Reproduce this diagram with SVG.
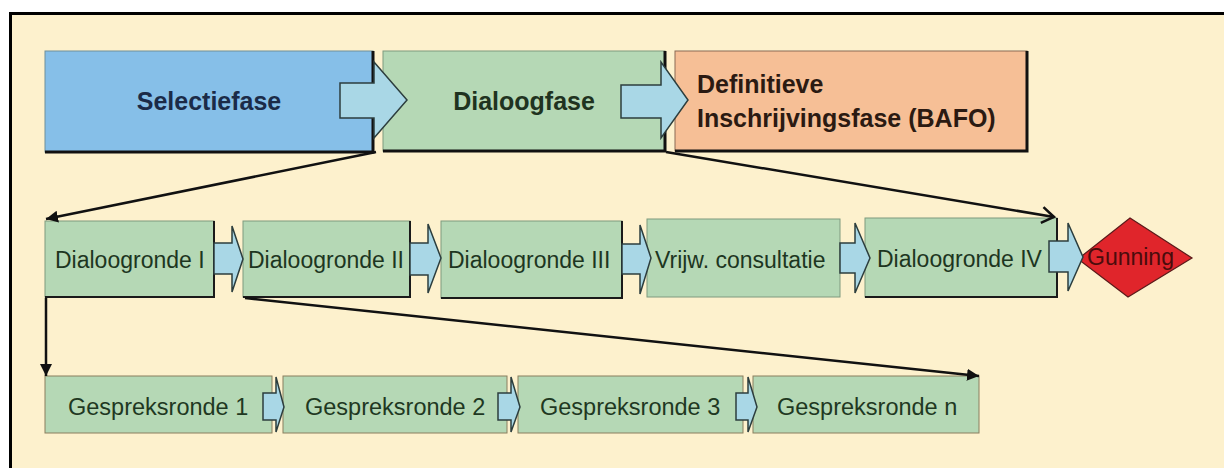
<svg xmlns="http://www.w3.org/2000/svg" width="1224" height="468" viewBox="0 0 1224 468">
  <defs>
    <style>
      .bg { fill: #fdf1cd; }
      .frame { fill: none; stroke: #000; stroke-width: 3; }
      .blue { fill: #86bfe8; stroke: #6f8f9a; stroke-width: 1; }
      .green { fill: #b5d8b5; stroke: #7f9a7f; stroke-width: 1; }
      .peach { fill: #f6bf96; stroke: #8a6a55; stroke-width: 1; }
      .gsm { fill: #b5d8b5; stroke: #8a7f5f; stroke-width: 1; }
      .shadow { fill: none; stroke: #111; stroke-width: 3; }
      .shadow2 { fill: none; stroke: #1a1a1a; stroke-width: 2; }
      .barrow { fill: #a9d7e6; stroke: #2c3e3e; stroke-width: 1.5; stroke-linejoin: miter; }
      .gun { fill: #e0252b; stroke: #5a1a1a; stroke-width: 1.2; }
      .t-big { font-family: "Liberation Sans", Arial, sans-serif; font-size: 25px; font-weight: bold; }
      .t-mid { font-family: "Liberation Sans", Arial, sans-serif; font-size: 23px; fill: #1d361f; }
      .t-bot { font-family: "Liberation Sans", Arial, sans-serif; font-size: 23.5px; fill: #1f3822; }
      .conn { fill: none; stroke: #111; stroke-width: 2.5; }
    </style>
    <marker id="fill-arrow" markerUnits="userSpaceOnUse" markerWidth="14" markerHeight="12" refX="12" refY="6" orient="auto">
      <path d="M0,0 L12,6 L0,12 Z" fill="#111"/>
    </marker>
    <marker id="open-arrow" markerUnits="userSpaceOnUse" markerWidth="16" markerHeight="18" refX="14" refY="9" orient="auto">
      <path d="M2,1 L14,9 L2,17" fill="none" stroke="#111" stroke-width="2.5"/>
    </marker>
  </defs>

  <rect class="bg" x="0" y="0" width="1224" height="468"/>
  <rect x="0" y="0" width="1224" height="12" fill="#ffffff"/>
  <rect x="0" y="0" width="9" height="468" fill="#ffffff"/>
  <path class="frame" d="M10.5,480 L10.5,13.5 L1230,13.5"/>

  <!-- Top row -->
  <g id="selectiefase">
    <rect class="blue" x="45" y="51" width="328" height="101"/>
    <path class="shadow" d="M373,51 L373,152 L45,152"/>
    <text class="t-big" x="209" y="110" text-anchor="middle" fill="#1b2b48">Selectiefase</text>
  </g>
  <g id="dialoogfase">
    <rect class="green" x="383" y="51" width="282" height="100"/>
    <path class="shadow" d="M665,51 L665,151 L383,151"/>
    <text class="t-big" x="524" y="110" text-anchor="middle" fill="#1f3320">Dialoogfase</text>
  </g>
  <g id="definitieve">
    <rect class="peach" x="675" y="51" width="352" height="100"/>
    <path class="shadow" d="M1027,51 L1027,151 L675,151"/>
    <text class="t-big" x="697" y="93" fill="#2b1a12">Definitieve</text>
    <text class="t-big" x="697" y="127" fill="#2b1a12">Inschrijvingsfase (BAFO)</text>
  </g>
  <g id="arrow-top-1">
    <polygon class="barrow" points="340,83 374,83 374,62 407,100 374,138 374,118 340,118"/>
  </g>
  <g id="arrow-top-2">
    <polygon class="barrow" points="621,85 661,85 661,62 688,100 661,138 661,118 621,118"/>
  </g>

  <!-- Middle row -->
  <g id="dialoogronde-1">
    <rect class="green" x="45" y="221" width="169" height="76"/>
    <path class="shadow2" d="M214,221 L214,297 L45,297"/>
    <text class="t-mid" x="55" y="268">Dialoogronde I</text>
  </g>
  <g id="dialoogronde-2">
    <rect class="green" x="243" y="221" width="167" height="76"/>
    <path class="shadow2" d="M410,221 L410,297 L243,297"/>
    <text class="t-mid" x="248" y="268">Dialoogronde II</text>
  </g>
  <g id="dialoogronde-3">
    <rect class="green" x="441" y="221" width="181" height="77"/>
    <path class="shadow2" d="M622,221 L622,298 L441,298"/>
    <text class="t-mid" x="448" y="268">Dialoogronde III</text>
  </g>
  <g id="vrijw-consultatie">
    <rect class="green" x="647" y="219" width="193" height="78"/>
    <text class="t-mid" x="655" y="268">Vrijw. consultatie</text>
  </g>
  <g id="dialoogronde-4">
    <rect class="green" x="865" y="218" width="192" height="79"/>
    <path class="shadow2" d="M1057,218 L1057,297 L865,297"/>
    <text class="t-mid" x="877" y="267">Dialoogronde IV</text>
  </g>
  <g id="gunning">
    <polygon class="gun" points="1078,259 1130,218 1192,258 1128,297"/>
    <text class="t-mid" x="1087" y="265" fill="#4a0c0c" style="fill:#4a0c0c">Gunning</text>
  </g>
  <g id="arrows-mid">
    <polygon class="barrow" points="214,243 232,243 232,226 243,259 232,292 232,274 214,274"/>
    <polygon class="barrow" points="410,243 428,243 428,224 441,258 428,293 428,275 410,275"/>
    <polygon class="barrow" points="622,244 640,244 640,225 651,258 640,294 640,274 622,274"/>
    <polygon class="barrow" points="840,243 855,243 855,223 870,258 855,293 855,273 840,273"/>
    <polygon class="barrow" points="1049,241 1068,241 1068,223 1083,257 1068,291 1068,272 1049,272"/>
  </g>

  <!-- Bottom row -->
  <g id="gespreksronde-1">
    <rect class="gsm" x="45" y="376" width="227" height="57"/>
    <text class="t-bot" x="68" y="415">Gespreksronde 1</text>
  </g>
  <g id="gespreksronde-2">
    <rect class="gsm" x="283" y="376" width="224" height="57"/>
    <text class="t-bot" x="305" y="415">Gespreksronde 2</text>
  </g>
  <g id="gespreksronde-3">
    <rect class="gsm" x="518" y="376" width="225" height="57"/>
    <text class="t-bot" x="540" y="415">Gespreksronde 3</text>
  </g>
  <g id="gespreksronde-n">
    <rect class="gsm" x="753" y="376" width="226" height="57"/>
    <text class="t-bot" x="777" y="415">Gespreksronde n</text>
  </g>
  <g id="arrows-bottom">
    <polygon class="barrow" points="263,393 276,393 276,377 284,407 276,432 276,420 263,420"/>
    <polygon class="barrow" points="498,393 511,393 511,377 520,407 511,432 511,420 498,420"/>
    <polygon class="barrow" points="736,393 748,393 748,377 757,407 748,432 748,420 736,420"/>
  </g>

  <!-- Connectors -->
  <g id="connectors">
    <line class="conn" x1="376" y1="152" x2="46" y2="219" marker-end="url(#fill-arrow)"/>
    <line class="conn" x1="666" y1="152" x2="1054" y2="217" marker-end="url(#open-arrow)"/>
    <line class="conn" x1="46" y1="298" x2="46" y2="376" marker-end="url(#fill-arrow)"/>
    <line class="conn" x1="245" y1="298" x2="979" y2="376" marker-end="url(#fill-arrow)"/>
  </g>
</svg>
